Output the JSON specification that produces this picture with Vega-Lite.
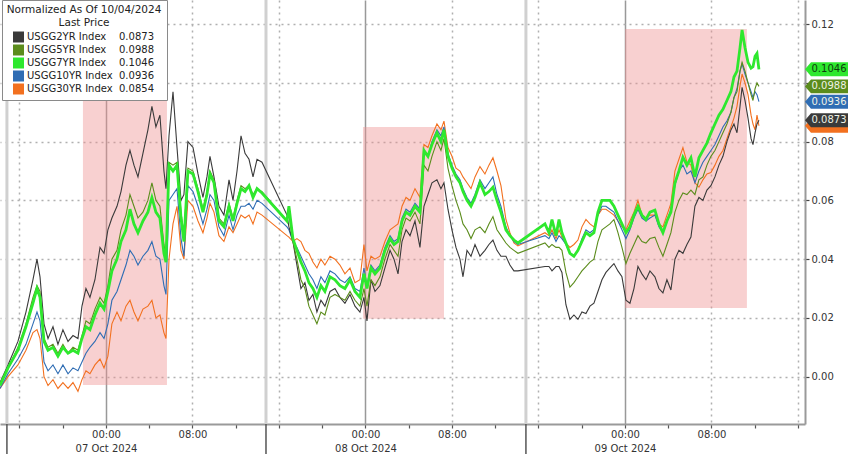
{
  "$schema": "https://vega.github.io/schema/vega-lite/v6.json",
  "width": 805,
  "height": 424,
  "autosize": {"type": "none"},
  "padding": {"left": 0, "top": 0, "right": 43, "bottom": 30},
  "background": "white",
  "config": {"font": "DejaVu Sans", "view": {"stroke": null}},
  "layer": [
    {
      "data": {"values": [
        {"h1": -2.13, "h2": 5.64, "v1": -0.0028, "v2": 0.0941},
        {"h1": 23.77, "h2": 31.26, "v1": 0.0197, "v2": 0.085},
        {"h1": 48.0, "h2": 59.28, "v1": 0.0234, "v2": 0.1183}
      ]},
      "mark": {"type": "rect", "color": "#ee8f8f", "opacity": 0.42},
      "encoding": {
        "x": {"field": "h1", "type": "quantitative", "scale": {"domain": [-9.8, 64.65], "nice": false, "zero": false}, "axis": {"title": null, "orient": "bottom"}},
        "x2": {"field": "h2"},
        "y": {"field": "v1", "type": "quantitative", "scale": {"domain": [-0.0161, 0.1282], "nice": false, "zero": false}, "axis": {"title": null, "orient": "right"}},
        "y2": {"field": "v2"}
      }
    },
    {
      "data": {"values": [{"h": -9.16}, {"h": 14.8}, {"h": 38.84}]},
      "mark": {"type": "rule", "color": "#d0d0d0", "strokeWidth": 3},
      "encoding": {
        "x": {"field": "h", "type": "quantitative", "scale": {"domain": [-9.8, 64.65], "nice": false, "zero": false}, "axis": {"title": null, "orient": "bottom"}}
      }
    },
    {
      "data": {"values": [{"h": -9.16}, {"h": 14.8}, {"h": 38.84}]},
      "mark": {"type": "rule", "color": "#555555", "strokeWidth": 1.5},
      "encoding": {
        "x": {"field": "h", "type": "quantitative", "scale": {"domain": [-9.8, 64.65], "nice": false, "zero": false}, "axis": {"title": null, "orient": "bottom"}},
        "y": {"datum": -0.0161, "type": "quantitative", "scale": {"domain": [-0.0161, 0.1282], "nice": false, "zero": false}, "axis": {"title": null, "orient": "right"}},
        "y2": {"datum": -0.0265}
      }
    },
    {
      "data": {"values": [
        {"h": -9.80, "USGG2YR": -0.002, "USGG5YR": -0.003, "USGG7YR": -0.003, "USGG10YR": -0.004, "USGG30YR": -0.004},
        {"h": -9.06, "USGG2YR": 0.004, "USGG5YR": 0.003, "USGG7YR": 0.003, "USGG10YR": 0.001, "USGG30YR": 0.000},
        {"h": -8.14, "USGG2YR": 0.012, "USGG5YR": 0.010, "USGG7YR": 0.009, "USGG10YR": 0.006, "USGG30YR": 0.004},
        {"h": -7.40, "USGG2YR": 0.022, "USGG5YR": 0.018, "USGG7YR": 0.017, "USGG10YR": 0.011, "USGG30YR": 0.009},
        {"h": -6.75, "USGG2YR": 0.033, "USGG5YR": 0.027, "USGG7YR": 0.025, "USGG10YR": 0.018, "USGG30YR": 0.015},
        {"h": -6.38, "USGG2YR": 0.040, "USGG5YR": 0.031, "USGG7YR": 0.030, "USGG10YR": 0.022, "USGG30YR": 0.016},
        {"h": -6.10, "USGG2YR": 0.034, "USGG5YR": 0.029, "USGG7YR": 0.027, "USGG10YR": 0.019, "USGG30YR": 0.013},
        {"h": -5.73, "USGG2YR": 0.018, "USGG5YR": 0.013, "USGG7YR": 0.012, "USGG10YR": 0.005, "USGG30YR": 0.000},
        {"h": -5.36, "USGG2YR": 0.013, "USGG5YR": 0.010, "USGG7YR": 0.009, "USGG10YR": 0.002, "USGG30YR": -0.003},
        {"h": -4.90, "USGG2YR": 0.017, "USGG5YR": 0.011, "USGG7YR": 0.010, "USGG10YR": 0.004, "USGG30YR": -0.001},
        {"h": -4.44, "USGG2YR": 0.011, "USGG5YR": 0.008, "USGG7YR": 0.007, "USGG10YR": 0.001, "USGG30YR": -0.004},
        {"h": -3.98, "USGG2YR": 0.016, "USGG5YR": 0.011, "USGG7YR": 0.010, "USGG10YR": 0.004, "USGG30YR": -0.002},
        {"h": -3.51, "USGG2YR": 0.012, "USGG5YR": 0.008, "USGG7YR": 0.008, "USGG10YR": 0.001, "USGG30YR": -0.004},
        {"h": -3.05, "USGG2YR": 0.014, "USGG5YR": 0.010, "USGG7YR": 0.009, "USGG10YR": 0.003, "USGG30YR": -0.002},
        {"h": -2.59, "USGG2YR": 0.013, "USGG5YR": 0.009, "USGG7YR": 0.008, "USGG10YR": 0.002, "USGG30YR": -0.005},
        {"h": -2.22, "USGG2YR": 0.024, "USGG5YR": 0.014, "USGG7YR": 0.013, "USGG10YR": 0.005, "USGG30YR": -0.001},
        {"h": -1.85, "USGG2YR": 0.030, "USGG5YR": 0.019, "USGG7YR": 0.017, "USGG10YR": 0.008, "USGG30YR": 0.002},
        {"h": -1.48, "USGG2YR": 0.027, "USGG5YR": 0.018, "USGG7YR": 0.016, "USGG10YR": 0.010, "USGG30YR": 0.001},
        {"h": -1.02, "USGG2YR": 0.033, "USGG5YR": 0.023, "USGG7YR": 0.021, "USGG10YR": 0.012, "USGG30YR": 0.004},
        {"h": -0.55, "USGG2YR": 0.044, "USGG5YR": 0.027, "USGG7YR": 0.025, "USGG10YR": 0.015, "USGG30YR": 0.006},
        {"h": -0.18, "USGG2YR": 0.042, "USGG5YR": 0.025, "USGG7YR": 0.023, "USGG10YR": 0.013, "USGG30YR": 0.003},
        {"h": 0.18, "USGG2YR": 0.050, "USGG5YR": 0.031, "USGG7YR": 0.029, "USGG10YR": 0.018, "USGG30YR": 0.007},
        {"h": 0.55, "USGG2YR": 0.054, "USGG5YR": 0.040, "USGG7YR": 0.036, "USGG10YR": 0.026, "USGG30YR": 0.018},
        {"h": 1.02, "USGG2YR": 0.058, "USGG5YR": 0.043, "USGG7YR": 0.040, "USGG10YR": 0.029, "USGG30YR": 0.022},
        {"h": 1.39, "USGG2YR": 0.063, "USGG5YR": 0.050, "USGG7YR": 0.046, "USGG10YR": 0.033, "USGG30YR": 0.019},
        {"h": 1.85, "USGG2YR": 0.072, "USGG5YR": 0.055, "USGG7YR": 0.050, "USGG10YR": 0.038, "USGG30YR": 0.024},
        {"h": 2.22, "USGG2YR": 0.077, "USGG5YR": 0.062, "USGG7YR": 0.057, "USGG10YR": 0.043, "USGG30YR": 0.026},
        {"h": 2.59, "USGG2YR": 0.072, "USGG5YR": 0.058, "USGG7YR": 0.052, "USGG10YR": 0.041, "USGG30YR": 0.022},
        {"h": 2.96, "USGG2YR": 0.068, "USGG5YR": 0.054, "USGG7YR": 0.049, "USGG10YR": 0.038, "USGG30YR": 0.019},
        {"h": 3.42, "USGG2YR": 0.076, "USGG5YR": 0.056, "USGG7YR": 0.053, "USGG10YR": 0.041, "USGG30YR": 0.023},
        {"h": 3.88, "USGG2YR": 0.084, "USGG5YR": 0.060, "USGG7YR": 0.056, "USGG10YR": 0.043, "USGG30YR": 0.024},
        {"h": 4.25, "USGG2YR": 0.092, "USGG5YR": 0.066, "USGG7YR": 0.061, "USGG10YR": 0.046, "USGG30YR": 0.026},
        {"h": 4.62, "USGG2YR": 0.085, "USGG5YR": 0.060, "USGG7YR": 0.056, "USGG10YR": 0.041, "USGG30YR": 0.020},
        {"h": 4.99, "USGG2YR": 0.089, "USGG5YR": 0.058, "USGG7YR": 0.054, "USGG10YR": 0.040, "USGG30YR": 0.021},
        {"h": 5.36, "USGG2YR": 0.070, "USGG5YR": 0.045, "USGG7YR": 0.042, "USGG10YR": 0.031, "USGG30YR": 0.015},
        {"h": 5.55, "USGG2YR": 0.064, "USGG5YR": 0.041, "USGG7YR": 0.039, "USGG10YR": 0.028, "USGG30YR": 0.013},
        {"h": 5.83, "USGG2YR": 0.082, "USGG5YR": 0.073, "USGG7YR": 0.072, "USGG10YR": 0.060, "USGG30YR": 0.040},
        {"h": 6.20, "USGG2YR": 0.097, "USGG5YR": 0.072, "USGG7YR": 0.070, "USGG10YR": 0.062, "USGG30YR": 0.052},
        {"h": 6.57, "USGG2YR": 0.078, "USGG5YR": 0.073, "USGG7YR": 0.072, "USGG10YR": 0.064, "USGG30YR": 0.058},
        {"h": 6.94, "USGG2YR": 0.060, "USGG5YR": 0.056, "USGG7YR": 0.054, "USGG10YR": 0.047, "USGG30YR": 0.043},
        {"h": 7.21, "USGG2YR": 0.062, "USGG5YR": 0.048, "USGG7YR": 0.046, "USGG10YR": 0.041, "USGG30YR": 0.040},
        {"h": 7.58, "USGG2YR": 0.080, "USGG5YR": 0.071, "USGG7YR": 0.070, "USGG10YR": 0.065, "USGG30YR": 0.060},
        {"h": 8.05, "USGG2YR": 0.078, "USGG5YR": 0.070, "USGG7YR": 0.069, "USGG10YR": 0.063, "USGG30YR": 0.058},
        {"h": 8.51, "USGG2YR": 0.069, "USGG5YR": 0.064, "USGG7YR": 0.063, "USGG10YR": 0.058, "USGG30YR": 0.053},
        {"h": 8.97, "USGG2YR": 0.061, "USGG5YR": 0.057, "USGG7YR": 0.056, "USGG10YR": 0.052, "USGG30YR": 0.049},
        {"h": 9.34, "USGG2YR": 0.068, "USGG5YR": 0.063, "USGG7YR": 0.062, "USGG10YR": 0.057, "USGG30YR": 0.054},
        {"h": 9.62, "USGG2YR": 0.075, "USGG5YR": 0.070, "USGG7YR": 0.069, "USGG10YR": 0.062, "USGG30YR": 0.059},
        {"h": 9.99, "USGG2YR": 0.068, "USGG5YR": 0.067, "USGG7YR": 0.066, "USGG10YR": 0.060, "USGG30YR": 0.056},
        {"h": 10.45, "USGG2YR": 0.058, "USGG5YR": 0.054, "USGG7YR": 0.053, "USGG10YR": 0.051, "USGG30YR": 0.048},
        {"h": 10.91, "USGG2YR": 0.055, "USGG5YR": 0.052, "USGG7YR": 0.051, "USGG10YR": 0.048, "USGG30YR": 0.046},
        {"h": 11.38, "USGG2YR": 0.067, "USGG5YR": 0.059, "USGG7YR": 0.058, "USGG10YR": 0.055, "USGG30YR": 0.051},
        {"h": 11.75, "USGG2YR": 0.060, "USGG5YR": 0.054, "USGG7YR": 0.053, "USGG10YR": 0.050, "USGG30YR": 0.049},
        {"h": 12.12, "USGG2YR": 0.070, "USGG5YR": 0.060, "USGG7YR": 0.059, "USGG10YR": 0.055, "USGG30YR": 0.052},
        {"h": 12.49, "USGG2YR": 0.082, "USGG5YR": 0.065, "USGG7YR": 0.064, "USGG10YR": 0.058, "USGG30YR": 0.055},
        {"h": 12.86, "USGG2YR": 0.076, "USGG5YR": 0.064, "USGG7YR": 0.063, "USGG10YR": 0.058, "USGG30YR": 0.054},
        {"h": 13.23, "USGG2YR": 0.074, "USGG5YR": 0.065, "USGG7YR": 0.065, "USGG10YR": 0.059, "USGG30YR": 0.055},
        {"h": 13.60, "USGG2YR": 0.068, "USGG5YR": 0.062, "USGG7YR": 0.061, "USGG10YR": 0.057, "USGG30YR": 0.052},
        {"h": 13.97, "USGG2YR": 0.074, "USGG5YR": 0.064, "USGG7YR": 0.064, "USGG10YR": 0.060, "USGG30YR": 0.056},
        {"h": 14.43, "USGG2YR": 0.073, "USGG5YR": 0.063, "USGG7YR": 0.0625, "USGG10YR": 0.059, "USGG30YR": 0.055},
        {"h": 16.74, "USGG2YR": 0.055, "USGG5YR": 0.053, "USGG7YR": 0.053, "USGG10YR": 0.051, "USGG30YR": 0.048},
        {"h": 16.92, "USGG2YR": 0.051, "USGG5YR": 0.055, "USGG7YR": 0.058, "USGG10YR": 0.050, "USGG30YR": 0.0475},
        {"h": 17.29, "USGG2YR": 0.046, "USGG5YR": 0.046, "USGG7YR": 0.047, "USGG10YR": 0.046, "USGG30YR": 0.046},
        {"h": 17.66, "USGG2YR": 0.038, "USGG5YR": 0.040, "USGG7YR": 0.043, "USGG10YR": 0.044, "USGG30YR": 0.047},
        {"h": 18.03, "USGG2YR": 0.030, "USGG5YR": 0.033, "USGG7YR": 0.039, "USGG10YR": 0.041, "USGG30YR": 0.046},
        {"h": 18.40, "USGG2YR": 0.032, "USGG5YR": 0.030, "USGG7YR": 0.036, "USGG10YR": 0.038, "USGG30YR": 0.043},
        {"h": 18.77, "USGG2YR": 0.026, "USGG5YR": 0.024, "USGG7YR": 0.032, "USGG10YR": 0.035, "USGG30YR": 0.042},
        {"h": 19.14, "USGG2YR": 0.028, "USGG5YR": 0.021, "USGG7YR": 0.030, "USGG10YR": 0.033, "USGG30YR": 0.039},
        {"h": 19.51, "USGG2YR": 0.022, "USGG5YR": 0.018, "USGG7YR": 0.027, "USGG10YR": 0.030, "USGG30YR": 0.037},
        {"h": 19.88, "USGG2YR": 0.026, "USGG5YR": 0.022, "USGG7YR": 0.031, "USGG10YR": 0.034, "USGG30YR": 0.040},
        {"h": 20.25, "USGG2YR": 0.024, "USGG5YR": 0.021, "USGG7YR": 0.029, "USGG10YR": 0.032, "USGG30YR": 0.038},
        {"h": 20.72, "USGG2YR": 0.029, "USGG5YR": 0.027, "USGG7YR": 0.034, "USGG10YR": 0.036, "USGG30YR": 0.041},
        {"h": 21.18, "USGG2YR": 0.030, "USGG5YR": 0.028, "USGG7YR": 0.033, "USGG10YR": 0.035, "USGG30YR": 0.040},
        {"h": 21.64, "USGG2YR": 0.027, "USGG5YR": 0.027, "USGG7YR": 0.031, "USGG10YR": 0.033, "USGG30YR": 0.038},
        {"h": 22.10, "USGG2YR": 0.025, "USGG5YR": 0.026, "USGG7YR": 0.030, "USGG10YR": 0.032, "USGG30YR": 0.035},
        {"h": 22.57, "USGG2YR": 0.028, "USGG5YR": 0.029, "USGG7YR": 0.033, "USGG10YR": 0.034, "USGG30YR": 0.037},
        {"h": 23.03, "USGG2YR": 0.024, "USGG5YR": 0.026, "USGG7YR": 0.029, "USGG10YR": 0.030, "USGG30YR": 0.032},
        {"h": 23.49, "USGG2YR": 0.022, "USGG5YR": 0.024, "USGG7YR": 0.027, "USGG10YR": 0.029, "USGG30YR": 0.033},
        {"h": 23.86, "USGG2YR": 0.027, "USGG5YR": 0.030, "USGG7YR": 0.035, "USGG10YR": 0.037, "USGG30YR": 0.045},
        {"h": 24.14, "USGG2YR": 0.019, "USGG5YR": 0.024, "USGG7YR": 0.030, "USGG10YR": 0.031, "USGG30YR": 0.036},
        {"h": 24.51, "USGG2YR": 0.033, "USGG5YR": 0.033, "USGG7YR": 0.037, "USGG10YR": 0.038, "USGG30YR": 0.041},
        {"h": 24.88, "USGG2YR": 0.029, "USGG5YR": 0.031, "USGG7YR": 0.035, "USGG10YR": 0.036, "USGG30YR": 0.040},
        {"h": 25.34, "USGG2YR": 0.031, "USGG5YR": 0.034, "USGG7YR": 0.037, "USGG10YR": 0.038, "USGG30YR": 0.041},
        {"h": 25.80, "USGG2YR": 0.037, "USGG5YR": 0.040, "USGG7YR": 0.043, "USGG10YR": 0.044, "USGG30YR": 0.046},
        {"h": 26.27, "USGG2YR": 0.043, "USGG5YR": 0.045, "USGG7YR": 0.047, "USGG10YR": 0.048, "USGG30YR": 0.050},
        {"h": 26.64, "USGG2YR": 0.040, "USGG5YR": 0.043, "USGG7YR": 0.045, "USGG10YR": 0.046, "USGG30YR": 0.051},
        {"h": 27.01, "USGG2YR": 0.035, "USGG5YR": 0.041, "USGG7YR": 0.046, "USGG10YR": 0.047, "USGG30YR": 0.052},
        {"h": 27.38, "USGG2YR": 0.046, "USGG5YR": 0.050, "USGG7YR": 0.053, "USGG10YR": 0.054, "USGG30YR": 0.058},
        {"h": 27.75, "USGG2YR": 0.050, "USGG5YR": 0.054, "USGG7YR": 0.056, "USGG10YR": 0.057, "USGG30YR": 0.061},
        {"h": 28.12, "USGG2YR": 0.048, "USGG5YR": 0.053, "USGG7YR": 0.055, "USGG10YR": 0.056, "USGG30YR": 0.060},
        {"h": 28.58, "USGG2YR": 0.053, "USGG5YR": 0.056, "USGG7YR": 0.058, "USGG10YR": 0.059, "USGG30YR": 0.064},
        {"h": 29.04, "USGG2YR": 0.044, "USGG5YR": 0.052, "USGG7YR": 0.056, "USGG10YR": 0.057, "USGG30YR": 0.061},
        {"h": 29.41, "USGG2YR": 0.058, "USGG5YR": 0.072, "USGG7YR": 0.077, "USGG10YR": 0.076, "USGG30YR": 0.079},
        {"h": 29.78, "USGG2YR": 0.062, "USGG5YR": 0.070, "USGG7YR": 0.075, "USGG10YR": 0.075, "USGG30YR": 0.078},
        {"h": 30.15, "USGG2YR": 0.066, "USGG5YR": 0.075, "USGG7YR": 0.079, "USGG10YR": 0.080, "USGG30YR": 0.082},
        {"h": 30.61, "USGG2YR": 0.067, "USGG5YR": 0.080, "USGG7YR": 0.083, "USGG10YR": 0.084, "USGG30YR": 0.086},
        {"h": 30.98, "USGG2YR": 0.064, "USGG5YR": 0.077, "USGG7YR": 0.080, "USGG10YR": 0.082, "USGG30YR": 0.084},
        {"h": 31.26, "USGG2YR": 0.066, "USGG5YR": 0.081, "USGG7YR": 0.084, "USGG10YR": 0.085, "USGG30YR": 0.087},
        {"h": 31.63, "USGG2YR": 0.057, "USGG5YR": 0.071, "USGG7YR": 0.075, "USGG10YR": 0.076, "USGG30YR": 0.078},
        {"h": 32.00, "USGG2YR": 0.050, "USGG5YR": 0.065, "USGG7YR": 0.071, "USGG10YR": 0.072, "USGG30YR": 0.075},
        {"h": 32.37, "USGG2YR": 0.044, "USGG5YR": 0.060, "USGG7YR": 0.068, "USGG10YR": 0.069, "USGG30YR": 0.071},
        {"h": 32.74, "USGG2YR": 0.040, "USGG5YR": 0.056, "USGG7YR": 0.066, "USGG10YR": 0.067, "USGG30YR": 0.070},
        {"h": 33.02, "USGG2YR": 0.034, "USGG5YR": 0.052, "USGG7YR": 0.063, "USGG10YR": 0.064, "USGG30YR": 0.068},
        {"h": 33.39, "USGG2YR": 0.043, "USGG5YR": 0.050, "USGG7YR": 0.060, "USGG10YR": 0.061, "USGG30YR": 0.066},
        {"h": 33.76, "USGG2YR": 0.041, "USGG5YR": 0.047, "USGG7YR": 0.058, "USGG10YR": 0.059, "USGG30YR": 0.064},
        {"h": 34.13, "USGG2YR": 0.045, "USGG5YR": 0.050, "USGG7YR": 0.061, "USGG10YR": 0.062, "USGG30YR": 0.068},
        {"h": 34.59, "USGG2YR": 0.041, "USGG5YR": 0.051, "USGG7YR": 0.066, "USGG10YR": 0.067, "USGG30YR": 0.0715},
        {"h": 35.05, "USGG2YR": 0.043, "USGG5YR": 0.049, "USGG7YR": 0.062, "USGG10YR": 0.064, "USGG30YR": 0.069},
        {"h": 35.42, "USGG2YR": 0.045, "USGG5YR": 0.052, "USGG7YR": 0.063, "USGG10YR": 0.066, "USGG30YR": 0.072},
        {"h": 35.79, "USGG2YR": 0.0465, "USGG5YR": 0.0545, "USGG7YR": 0.0645, "USGG10YR": 0.068, "USGG30YR": 0.0745},
        {"h": 36.16, "USGG2YR": 0.043, "USGG5YR": 0.050, "USGG7YR": 0.060, "USGG10YR": 0.062, "USGG30YR": 0.070},
        {"h": 36.53, "USGG2YR": 0.041, "USGG5YR": 0.048, "USGG7YR": 0.056, "USGG10YR": 0.058, "USGG30YR": 0.065},
        {"h": 36.99, "USGG2YR": 0.041, "USGG5YR": 0.0455, "USGG7YR": 0.050, "USGG10YR": 0.051, "USGG30YR": 0.0535},
        {"h": 37.36, "USGG2YR": 0.038, "USGG5YR": 0.044, "USGG7YR": 0.048, "USGG10YR": 0.048, "USGG30YR": 0.049},
        {"h": 37.73, "USGG2YR": 0.036, "USGG5YR": 0.043, "USGG7YR": 0.0465, "USGG10YR": 0.046, "USGG30YR": 0.0455},
        {"h": 38.10, "USGG2YR": 0.036, "USGG5YR": 0.042, "USGG7YR": 0.0455, "USGG10YR": 0.045, "USGG30YR": 0.0445},
        {"h": 40.60, "USGG2YR": 0.0375, "USGG5YR": 0.0455, "USGG7YR": 0.052, "USGG10YR": 0.048, "USGG30YR": 0.049},
        {"h": 40.97, "USGG2YR": 0.0375, "USGG5YR": 0.044, "USGG7YR": 0.049, "USGG10YR": 0.047, "USGG30YR": 0.048},
        {"h": 41.25, "USGG2YR": 0.036, "USGG5YR": 0.045, "USGG7YR": 0.0535, "USGG10YR": 0.049, "USGG30YR": 0.050},
        {"h": 41.62, "USGG2YR": 0.0375, "USGG5YR": 0.044, "USGG7YR": 0.048, "USGG10YR": 0.046, "USGG30YR": 0.047},
        {"h": 41.90, "USGG2YR": 0.0375, "USGG5YR": 0.044, "USGG7YR": 0.0535, "USGG10YR": 0.048, "USGG30YR": 0.050},
        {"h": 42.17, "USGG2YR": 0.0355, "USGG5YR": 0.043, "USGG7YR": 0.049, "USGG10YR": 0.047, "USGG30YR": 0.0475},
        {"h": 42.54, "USGG2YR": 0.0245, "USGG5YR": 0.0355, "USGG7YR": 0.0455, "USGG10YR": 0.045, "USGG30YR": 0.0455},
        {"h": 42.91, "USGG2YR": 0.0195, "USGG5YR": 0.0305, "USGG7YR": 0.042, "USGG10YR": 0.042, "USGG30YR": 0.044},
        {"h": 43.28, "USGG2YR": 0.021, "USGG5YR": 0.032, "USGG7YR": 0.041, "USGG10YR": 0.041, "USGG30YR": 0.045},
        {"h": 43.65, "USGG2YR": 0.0195, "USGG5YR": 0.034, "USGG7YR": 0.043, "USGG10YR": 0.043, "USGG30YR": 0.0465},
        {"h": 44.02, "USGG2YR": 0.022, "USGG5YR": 0.036, "USGG7YR": 0.046, "USGG10YR": 0.047, "USGG30YR": 0.051},
        {"h": 44.39, "USGG2YR": 0.0215, "USGG5YR": 0.0375, "USGG7YR": 0.049, "USGG10YR": 0.050, "USGG30YR": 0.0535},
        {"h": 44.76, "USGG2YR": 0.024, "USGG5YR": 0.039, "USGG7YR": 0.048, "USGG10YR": 0.049, "USGG30YR": 0.052},
        {"h": 45.13, "USGG2YR": 0.025, "USGG5YR": 0.040, "USGG7YR": 0.049, "USGG10YR": 0.050, "USGG30YR": 0.051},
        {"h": 45.50, "USGG2YR": 0.029, "USGG5YR": 0.046, "USGG7YR": 0.056, "USGG10YR": 0.055, "USGG30YR": 0.055},
        {"h": 45.87, "USGG2YR": 0.033, "USGG5YR": 0.050, "USGG7YR": 0.060, "USGG10YR": 0.058, "USGG30YR": 0.057},
        {"h": 46.24, "USGG2YR": 0.0355, "USGG5YR": 0.051, "USGG7YR": 0.060, "USGG10YR": 0.058, "USGG30YR": 0.057},
        {"h": 46.61, "USGG2YR": 0.037, "USGG5YR": 0.052, "USGG7YR": 0.060, "USGG10YR": 0.057, "USGG30YR": 0.056},
        {"h": 46.98, "USGG2YR": 0.0385, "USGG5YR": 0.0535, "USGG7YR": 0.058, "USGG10YR": 0.056, "USGG30YR": 0.055},
        {"h": 47.35, "USGG2YR": 0.036, "USGG5YR": 0.049, "USGG7YR": 0.055, "USGG10YR": 0.053, "USGG30YR": 0.053},
        {"h": 47.72, "USGG2YR": 0.034, "USGG5YR": 0.044, "USGG7YR": 0.052, "USGG10YR": 0.050, "USGG30YR": 0.051},
        {"h": 48.09, "USGG2YR": 0.026, "USGG5YR": 0.0385, "USGG7YR": 0.049, "USGG10YR": 0.047, "USGG30YR": 0.050},
        {"h": 48.46, "USGG2YR": 0.025, "USGG5YR": 0.042, "USGG7YR": 0.051, "USGG10YR": 0.050, "USGG30YR": 0.053},
        {"h": 48.83, "USGG2YR": 0.030, "USGG5YR": 0.045, "USGG7YR": 0.055, "USGG10YR": 0.054, "USGG30YR": 0.056},
        {"h": 49.20, "USGG2YR": 0.0375, "USGG5YR": 0.048, "USGG7YR": 0.058, "USGG10YR": 0.057, "USGG30YR": 0.060},
        {"h": 49.57, "USGG2YR": 0.035, "USGG5YR": 0.046, "USGG7YR": 0.055, "USGG10YR": 0.054, "USGG30YR": 0.055},
        {"h": 49.94, "USGG2YR": 0.033, "USGG5YR": 0.0455, "USGG7YR": 0.0535, "USGG10YR": 0.053, "USGG30YR": 0.054},
        {"h": 50.31, "USGG2YR": 0.036, "USGG5YR": 0.047, "USGG7YR": 0.056, "USGG10YR": 0.054, "USGG30YR": 0.055},
        {"h": 50.77, "USGG2YR": 0.034, "USGG5YR": 0.0475, "USGG7YR": 0.0567, "USGG10YR": 0.055, "USGG30YR": 0.055},
        {"h": 51.14, "USGG2YR": 0.030, "USGG5YR": 0.044, "USGG7YR": 0.052, "USGG10YR": 0.051, "USGG30YR": 0.052},
        {"h": 51.51, "USGG2YR": 0.0285, "USGG5YR": 0.041, "USGG7YR": 0.049, "USGG10YR": 0.049, "USGG30YR": 0.051},
        {"h": 51.88, "USGG2YR": 0.033, "USGG5YR": 0.045, "USGG7YR": 0.053, "USGG10YR": 0.053, "USGG30YR": 0.055},
        {"h": 52.25, "USGG2YR": 0.0295, "USGG5YR": 0.049, "USGG7YR": 0.056, "USGG10YR": 0.057, "USGG30YR": 0.059},
        {"h": 52.62, "USGG2YR": 0.040, "USGG5YR": 0.056, "USGG7YR": 0.066, "USGG10YR": 0.065, "USGG30YR": 0.070},
        {"h": 52.99, "USGG2YR": 0.043, "USGG5YR": 0.060, "USGG7YR": 0.070, "USGG10YR": 0.070, "USGG30YR": 0.074},
        {"h": 53.36, "USGG2YR": 0.042, "USGG5YR": 0.0625, "USGG7YR": 0.0747, "USGG10YR": 0.072, "USGG30YR": 0.078},
        {"h": 53.73, "USGG2YR": 0.045, "USGG5YR": 0.062, "USGG7YR": 0.072, "USGG10YR": 0.069, "USGG30YR": 0.073},
        {"h": 54.10, "USGG2YR": 0.0475, "USGG5YR": 0.0635, "USGG7YR": 0.0745, "USGG10YR": 0.070, "USGG30YR": 0.072},
        {"h": 54.47, "USGG2YR": 0.058, "USGG5YR": 0.062, "USGG7YR": 0.068, "USGG10YR": 0.066, "USGG30YR": 0.066},
        {"h": 54.84, "USGG2YR": 0.061, "USGG5YR": 0.067, "USGG7YR": 0.0745, "USGG10YR": 0.070, "USGG30YR": 0.0645},
        {"h": 55.21, "USGG2YR": 0.060, "USGG5YR": 0.068, "USGG7YR": 0.077, "USGG10YR": 0.073, "USGG30YR": 0.067},
        {"h": 55.58, "USGG2YR": 0.0635, "USGG5YR": 0.072, "USGG7YR": 0.0795, "USGG10YR": 0.075, "USGG30YR": 0.069},
        {"h": 55.95, "USGG2YR": 0.065, "USGG5YR": 0.075, "USGG7YR": 0.083, "USGG10YR": 0.077, "USGG30YR": 0.0695},
        {"h": 56.32, "USGG2YR": 0.068, "USGG5YR": 0.077, "USGG7YR": 0.086, "USGG10YR": 0.079, "USGG30YR": 0.072},
        {"h": 56.69, "USGG2YR": 0.072, "USGG5YR": 0.080, "USGG7YR": 0.089, "USGG10YR": 0.082, "USGG30YR": 0.075},
        {"h": 57.06, "USGG2YR": 0.075, "USGG5YR": 0.083, "USGG7YR": 0.091, "USGG10YR": 0.085, "USGG30YR": 0.077},
        {"h": 57.43, "USGG2YR": 0.080, "USGG5YR": 0.086, "USGG7YR": 0.094, "USGG10YR": 0.087, "USGG30YR": 0.081},
        {"h": 57.80, "USGG2YR": 0.084, "USGG5YR": 0.090, "USGG7YR": 0.097, "USGG10YR": 0.090, "USGG30YR": 0.085},
        {"h": 58.08, "USGG2YR": 0.086, "USGG5YR": 0.095, "USGG7YR": 0.102, "USGG10YR": 0.095, "USGG30YR": 0.088},
        {"h": 58.36, "USGG2YR": 0.083, "USGG5YR": 0.097, "USGG7YR": 0.104, "USGG10YR": 0.098, "USGG30YR": 0.092},
        {"h": 58.64, "USGG2YR": 0.092, "USGG5YR": 0.104, "USGG7YR": 0.112, "USGG10YR": 0.104, "USGG30YR": 0.099},
        {"h": 58.83, "USGG2YR": 0.0985, "USGG5YR": 0.107, "USGG7YR": 0.118, "USGG10YR": 0.1065, "USGG30YR": 0.103},
        {"h": 59.10, "USGG2YR": 0.094, "USGG5YR": 0.104, "USGG7YR": 0.112, "USGG10YR": 0.103, "USGG30YR": 0.100},
        {"h": 59.38, "USGG2YR": 0.088, "USGG5YR": 0.100, "USGG7YR": 0.107, "USGG10YR": 0.100, "USGG30YR": 0.096},
        {"h": 59.66, "USGG2YR": 0.081, "USGG5YR": 0.096, "USGG7YR": 0.105, "USGG10YR": 0.097, "USGG30YR": 0.089},
        {"h": 59.84, "USGG2YR": 0.079, "USGG5YR": 0.094, "USGG7YR": 0.1055, "USGG10YR": 0.095, "USGG30YR": 0.086},
        {"h": 60.03, "USGG2YR": 0.083, "USGG5YR": 0.098, "USGG7YR": 0.109, "USGG10YR": 0.097, "USGG30YR": 0.084},
        {"h": 60.21, "USGG2YR": 0.086, "USGG5YR": 0.100, "USGG7YR": 0.110, "USGG10YR": 0.096, "USGG30YR": 0.089},
        {"h": 60.39, "USGG2YR": 0.0873, "USGG5YR": 0.0988, "USGG7YR": 0.1046, "USGG10YR": 0.0936, "USGG30YR": 0.0854}
      ]},
      "transform": [
        {"fold": ["USGG30YR", "USGG10YR", "USGG2YR", "USGG5YR", "USGG7YR"], "as": ["series", "value"]}
      ],
      "mark": {"type": "line", "interpolate": "linear"},
      "encoding": {
        "x": {
          "field": "h", "type": "quantitative",
          "scale": {"domain": [-9.8, 64.65], "nice": false, "zero": false},
          "axis": {
            "orient": "bottom", "title": null,
            "values": [-8, -4, 0, 4, 8, 12, 16, 20, 24, 28, 32, 36, 40, 44, 48, 52, 56, 60, 64],
            "labelExpr": "datum.value == 0 ? ['00:00', '07 Oct 2024'] : datum.value == 24 ? ['00:00', '08 Oct 2024'] : datum.value == 48 ? ['00:00', '09 Oct 2024'] : (datum.value == 8 || datum.value == 32 || datum.value == 56) ? '08:00' : ''",
            "labelFontSize": 10, "labelColor": "#333333", "labelLineHeight": 14.5, "labelPadding": 1,
            "labelOverlap": false, "labelBound": false, "labelFlush": false,
            "tickSize": 4, "tickColor": "#555555", "tickWidth": 1.2,
            "domainColor": "#9a9a9a", "domainWidth": 2,
            "grid": true,
            "gridColor": {"condition": {"test": "datum.value % 24 == 0", "value": "#999999"}, "value": "#b0b0b0"},
            "gridDash": {"condition": {"test": "datum.value % 24 == 0", "value": []}, "value": [2, 4]},
            "gridWidth": 1.5,
            "gridOpacity": {"condition": {"test": "datum.value % 8 != 0", "value": 0}, "value": 1}
          }
        },
        "y": {
          "field": "value", "type": "quantitative",
          "scale": {"domain": [-0.0161, 0.1282], "nice": false, "zero": false},
          "axis": {
            "orient": "right", "title": null,
            "values": [0, 0.02, 0.04, 0.06, 0.08, 0.1, 0.12],
            "format": ".2f",
            "labelExpr": "datum.value > 0.099 && datum.value < 0.101 ? '' : datum.label",
            "labelFontSize": 10, "labelColor": "#333333", "labelPadding": 2,
            "labelOverlap": false, "labelBound": false,
            "tickSize": 4, "tickColor": "#444444", "tickWidth": 1.2,
            "domainColor": "#9a9a9a", "domainWidth": 2,
            "grid": true, "gridColor": "#b0b0b0", "gridDash": [2, 4], "gridWidth": 1.5
          }
        },
        "stroke": {
          "field": "series", "type": "nominal",
          "scale": {"domain": ["USGG2YR", "USGG5YR", "USGG7YR", "USGG10YR", "USGG30YR"], "range": ["#3a3a3a", "#5b8c1c", "#2ee82e", "#2f6db4", "#f2701f"]}
        },
        "strokeWidth": {"condition": {"test": "datum.series == 'USGG7YR'", "value": 2.8}, "value": 1.1}
      }
    },
    {
      "data": {"values": [
        {"series": "USGG30YR", "value": 0.0854},
        {"series": "USGG2YR", "value": 0.0873},
        {"series": "USGG10YR", "value": 0.0936},
        {"series": "USGG5YR", "value": 0.0988},
        {"series": "USGG7YR", "value": 0.1046}
      ]},
      "mark": {"type": "point", "shape": "M0,0L1.09,-1.27L7.82,-1.27L7.82,1.27L1.09,1.27Z", "filled": true, "size": 121, "opacity": 1, "strokeWidth": 0},
      "encoding": {
        "x": {"datum": 64.65, "type": "quantitative", "scale": {"domain": [-9.8, 64.65], "nice": false, "zero": false}, "axis": {"title": null, "orient": "bottom"}},
        "y": {"field": "value", "type": "quantitative", "scale": {"domain": [-0.0161, 0.1282], "nice": false, "zero": false}, "axis": {"title": null, "orient": "right"}},
        "color": {
          "field": "series", "type": "nominal",
          "scale": {"domain": ["USGG2YR", "USGG5YR", "USGG7YR", "USGG10YR", "USGG30YR"], "range": ["#3a3a3a", "#5b8c1c", "#2ee82e", "#2f6db4", "#f2701f"]},
          "legend": {
            "orient": "none", "legendX": 2, "legendY": 0, "direction": "vertical",
            "title": ["Normalized As Of 10/04/2024", "Last Price"],
            "titleFontSize": 10.5, "titleFontWeight": "normal", "titleColor": "#222222",
            "titleAnchor": "middle", "titleAlign": "center", "titleLineHeight": 13, "titlePadding": 3,
            "padding": 5, "fillColor": "#ffffff", "strokeColor": "#8a8a8a",
            "symbolType": "square", "symbolSize": 121, "symbolStrokeWidth": 0, "symbolOpacity": 1,
            "labelFontSize": 10, "labelColor": "#222222", "labelOffset": 3, "rowPadding": 2, "labelLimit": 300,
            "labelExpr": "datum.label == 'USGG2YR' ? 'USGG2YR Index\u00a0\u00a0\u00a0\u00a00.0873' : datum.label == 'USGG5YR' ? 'USGG5YR Index\u00a0\u00a0\u00a0\u00a00.0988' : datum.label == 'USGG7YR' ? 'USGG7YR Index\u00a0\u00a0\u00a0\u00a00.1046' : datum.label == 'USGG10YR' ? 'USGG10YR Index\u00a0\u00a00.0936' : 'USGG30YR Index\u00a0\u00a00.0854'"
          }
        }
      }
    },
    {
      "data": {"values": [
        {"series": "USGG2YR", "value": 0.0873},
        {"series": "USGG10YR", "value": 0.0936},
        {"series": "USGG5YR", "value": 0.0988},
        {"series": "USGG7YR", "value": 0.1046}
      ]},
      "mark": {"type": "text", "dx": 24, "align": "center", "baseline": "middle", "fontSize": 10},
      "encoding": {
        "x": {"datum": 64.65, "type": "quantitative", "scale": {"domain": [-9.8, 64.65], "nice": false, "zero": false}, "axis": {"title": null, "orient": "bottom"}},
        "y": {"field": "value", "type": "quantitative", "scale": {"domain": [-0.0161, 0.1282], "nice": false, "zero": false}, "axis": {"title": null, "orient": "right"}},
        "text": {"field": "value", "type": "quantitative", "format": ".4f"},
        "fill": {"condition": {"test": "datum.series == 'USGG7YR'", "value": "#0d3d0d"}, "value": "#eef2e6"}
      }
    }
  ]
}
